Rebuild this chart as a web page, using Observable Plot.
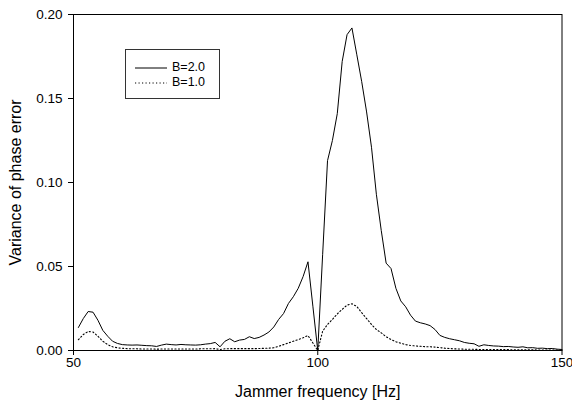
<!DOCTYPE html>
<html>
<head>
<meta charset="utf-8">
<script src="https://cdn.jsdelivr.net/npm/d3@7"></script>
<script src="https://cdn.jsdelivr.net/npm/@observablehq/plot@0.6"></script>
<style>
  html, body { margin: 0; padding: 0; background: #fff; }
  #wrap { position: relative; width: 572px; height: 407px; font-family: "Liberation Sans", Arial, sans-serif; }
  [aria-label="x-axis label"], [aria-label="y-axis label"] { font-size: 16px; }
  #legend { position: absolute; left: 125px; top: 49px; width: 95px; height: 50px; border: 1px solid #333; box-sizing: border-box; font-size: 12.5px; color: #000; }
  #legend .row { position: absolute; left: 9px; height: 13px; line-height: 13px; display: flex; align-items: center; white-space: nowrap; }
  #legend svg { display: block; margin-right: 5px; }
</style>
</head>
<body>
<div id="wrap"></div>
<script>
const frequency = [51,52,53,54,55,56,57,58,59,60,61,62,63,64,65,66,67,68,69,70,
  71,72,73,74,75,76,77,78,79,80,81,82,83,84,85,86,87,88,89,90,
  91,92,93,94,95,96,97,98,99,100,101,102,103,104,105,106,107,108,109,110,
  111,112,113,114,115,116,117,118,119,120,121,122,123,124,125,126,127,128,129,130,
  131,132,133,134,135,136,137,138,139,140,141,142,143,144,145,146,147,148,149,150];

const b2 = [0.0137,0.019,0.0232,0.0228,0.018,0.012,0.0085,0.0055,0.0042,0.0035,
  0.0033,0.0032,0.0033,0.0031,0.0029,0.0028,0.0024,0.0032,0.0038,0.0035,
  0.0033,0.0036,0.0034,0.0033,0.0032,0.0034,0.0038,0.0041,0.0048,0.0022,
  0.0055,0.007,0.0052,0.0062,0.0066,0.0082,0.0071,0.0078,0.0092,0.011,
  0.014,0.0185,0.022,0.028,0.032,0.037,0.044,0.0528,0.0264,0.0,
  0.057,0.113,0.125,0.141,0.172,0.188,0.192,0.176,0.16,0.142,
  0.121,0.093,0.0714,0.052,0.0488,0.037,0.0295,0.026,0.021,0.0175,
  0.0165,0.0158,0.0148,0.0125,0.009,0.0078,0.007,0.0064,0.0058,0.0048,
  0.0043,0.004,0.0025,0.0034,0.003,0.0027,0.0026,0.0023,0.0024,0.0021,
  0.0019,0.0022,0.0016,0.0017,0.0013,0.0014,0.0011,0.0012,0.0008,0.0006];

const b1 = [0.0064,0.0095,0.0113,0.011,0.0085,0.0055,0.0035,0.0022,0.0016,0.0013,
  0.0011,0.001,0.001,0.0009,0.0009,0.0009,0.0008,0.0009,0.0009,0.0009,
  0.0009,0.0009,0.0009,0.0009,0.0009,0.001,0.001,0.001,0.0011,0.0006,
  0.001,0.0011,0.0011,0.0011,0.0011,0.0011,0.0011,0.0012,0.0013,0.0014,
  0.0016,0.0025,0.0035,0.0045,0.0055,0.0065,0.0076,0.0089,0.0045,0.0,
  0.0115,0.0155,0.0185,0.0218,0.0245,0.027,0.0278,0.0262,0.0225,0.019,
  0.0155,0.0125,0.0105,0.0082,0.0065,0.0052,0.0043,0.0035,0.003,0.0027,
  0.0025,0.0023,0.0022,0.002,0.0017,0.0014,0.0012,0.001,0.0009,0.0008,
  0.0007,0.0007,0.0006,0.0006,0.0006,0.0005,0.0005,0.0005,0.0005,0.0004,
  0.0004,0.0004,0.0004,0.0004,0.0003,0.0003,0.0003,0.0003,0.0003,0.0003];

const seriesNames = ["B=2.0", "B=1.0"];
const xTicks = [50, 100, 150];
const yTicks = [0, 0.05, 0.10, 0.15, 0.20];

const rows2 = frequency.map((f, i) => ({f, v: b2[i]}));
const rows1 = frequency.map((f, i) => ({f, v: b1[i]}));

const chart = Plot.plot({
  width: 572,
  height: 407,
  marginLeft: 73,
  marginRight: 10.5,
  marginTop: 14,
  marginBottom: 57,
  style: {fontFamily: '"Liberation Sans", Arial, sans-serif', fontSize: "13.5px", color: "#000", background: "#fff"},
  x: {domain: [50, 150]},
  y: {domain: [0, 0.2]},
  marks: [
    Plot.frame({stroke: "#000", strokeWidth: 1}),
    Plot.axisX({ticks: xTicks, tickSize: 5, tickPadding: 1.5, tickFormat: d3.format("d"),
      label: "Jammer frequency [Hz]", labelAnchor: "center", labelArrow: "none", labelOffset: 46}),
    Plot.axisY({ticks: yTicks, tickSize: 5, tickPadding: 6, tickFormat: d3.format(".2f"),
      label: "Variance of phase error", labelAnchor: "center", labelArrow: "none", labelOffset: 64}),
    Plot.line(rows1, {x: "f", y: "v", stroke: "#000", strokeWidth: 1.1, strokeDasharray: "1.2,2.3"}),
    Plot.line(rows2, {x: "f", y: "v", stroke: "#000", strokeWidth: 1})
  ]
});

const wrap = document.getElementById("wrap");
wrap.appendChild(chart);

const legend = document.createElement("div");
legend.id = "legend";
const dashes = [null, "1.2,2.3"];
seriesNames.forEach((name, i) => {
  const row = document.createElement("div");
  row.className = "row";
  row.style.top = (11 + i * 15) + "px";
  row.innerHTML = `<svg width="32" height="4"><line x1="0" x2="32" y1="2" y2="2" stroke="#000" stroke-width="1" ${dashes[i] ? `stroke-dasharray="${dashes[i]}"` : ""}/></svg><span>${name}</span>`;
  legend.appendChild(row);
});
wrap.appendChild(legend);
</script>
</body>
</html>
